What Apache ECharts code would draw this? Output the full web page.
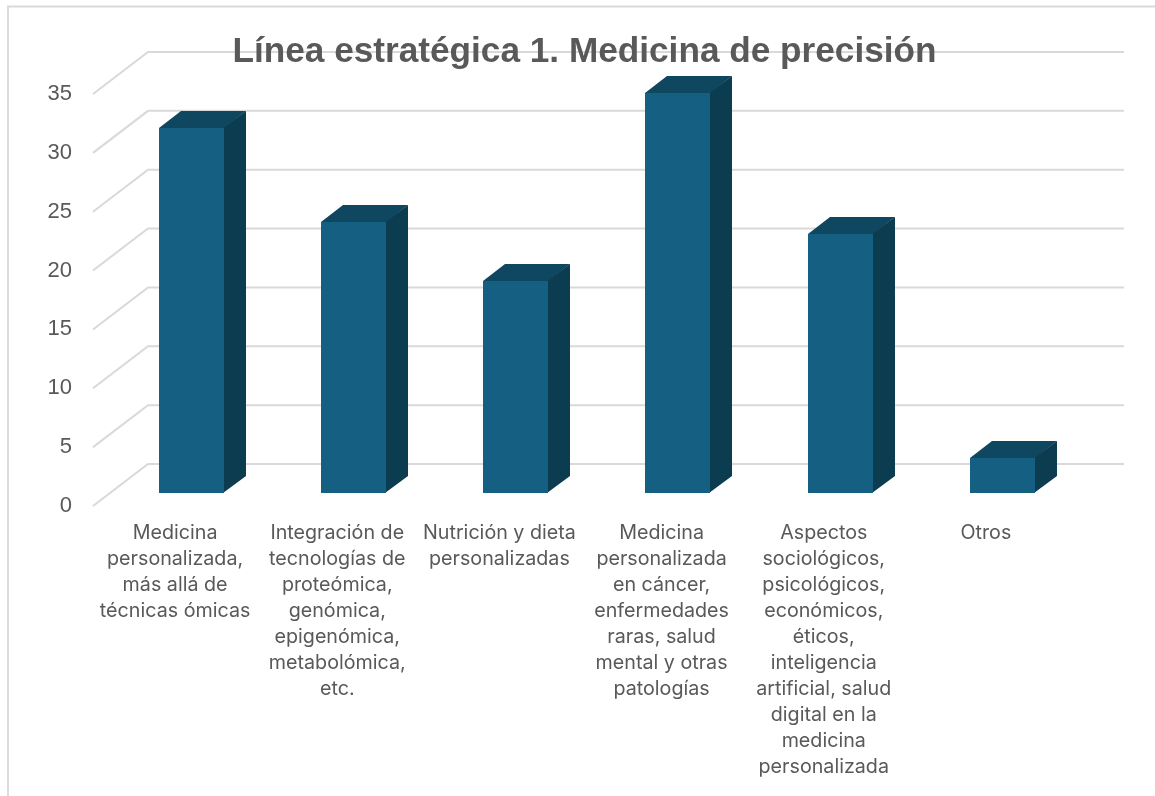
<!DOCTYPE html>
<html><head><meta charset="utf-8">
<style>html,body{margin:0;padding:0;background:#fff}#c{width:1155px;height:796px}</style>
<script src="https://cdn.jsdelivr.net/npm/echarts@6/dist/echarts.min.js"></script>
</head><body><div id="c"></div>
<script>
const chartTitle = 'Línea estratégica 1. Medicina de precisión';
const categories = [
  'Medicina\npersonalizada,\nmás allá de\ntécnicas ómicas',
  'Integración de\ntecnologías de\nproteómica,\ngenómica,\nepigenómica,\nmetabolómica,\netc.',
  'Nutrición y dieta\npersonalizadas',
  'Medicina\npersonalizada\nen cáncer,\nenfermedades\nraras, salud\nmental y otras\npatologías',
  'Aspectos\nsociológicos,\npsicológicos,\neconómicos,\néticos,\ninteligencia\nartificial, salud\ndigital en la\nmedicina\npersonalizada',
  'Otros'
];
const values = [31, 23, 18, 34, 22, 3];
const yTicks = [0, 5, 10, 15, 20, 25, 30, 35];

// 3D projection of the plot: wall depth, bar placement within the depth, bar depth
const WALL_DX = 55, WALL_DY = -42, WALL_START = -1, WALL_END = 2;
const BAR_DX = 16.4, BAR_DY = -13, SIDE_DX = 22, SIDE_DY = -17, BAR_FRACTION = 0.4;
const GRID_COLOR = '#d9d9d9', TEXT_COLOR = '#595959';

const chart = echarts.init(document.getElementById('c'), null, {renderer: 'canvas'});
chart.setOption({
  animation: false,
  backgroundColor: '#fff',
  title: {
    text: chartTitle, left: 579.5, top: 30, textAlign: 'center',
    textStyle: {fontFamily: 'Liberation Sans', fontSize: 35.2, fontWeight: 'bold', color: TEXT_COLOR}
  },
  grid: {left: 94, right: 88, top: 94, bottom: 290, containLabel: false},
  xAxis: {
    type: 'category', data: categories,
    axisLine: {show: false}, axisTick: {show: false}, splitLine: {show: false},
    axisLabel: {interval: 0, margin: 14, lineHeight: 26, fontSize: 19.7, color: TEXT_COLOR, fontFamily: 'Inter', verticalAlign: 'top', align: 'center'}
  },
  yAxis: {
    type: 'value', min: 0, max: 35, interval: 5,
    axisLine: {show: false}, axisTick: {show: false}, splitLine: {show: false},
    axisLabel: {margin: 22, fontSize: 22, color: TEXT_COLOR, fontFamily: 'Liberation Sans', align: 'right'}
  },
  graphic: [{
    type: 'polyline', silent: true, z: 0,
    shape: {points: [[8, 796], [8, 6.5], [1155, 6.5]]},
    style: {stroke: GRID_COLOR, lineWidth: 1.8, fill: null}
  }],
  series: [{
    type: 'custom', z: 1, silent: true, coordinateSystem: 'cartesian2d',
    data: yTicks.map(t => [0, t]),
    encode: {x: 0, y: 1},
    renderItem(params, api) {
      const y = api.coord([0, api.value(1)])[1];
      const rect = params.coordSys;
      const x0 = rect.x + WALL_START;
      return {
        type: 'polyline',
        shape: {points: [[x0, y], [x0 + WALL_DX, y + WALL_DY], [rect.x + rect.width + WALL_DX + WALL_END, y + WALL_DY]]},
        style: {stroke: GRID_COLOR, lineWidth: 2, fill: null}
      };
    }
  }, {
    type: 'custom', z: 3, silent: true, coordinateSystem: 'cartesian2d',
    data: values.map((v, i) => [i, v]),
    encode: {x: 0, y: 1},
    renderItem(params, api) {
      const i = api.value(0), v = api.value(1);
      const top = api.coord([i, v]), base = api.coord([i, 0]);
      const w = Math.round(api.size([1, 0])[0] * BAR_FRACTION);
      const l = Math.round(top[0] - w / 2 + BAR_DX), r = l + w;
      const t = Math.round(top[1] + BAR_DY), b = Math.round(base[1] + BAR_DY);
      return {
        type: 'group',
        children: [
          {type: 'polygon', shape: {points: [[l, t], [r, t], [r + SIDE_DX, t + SIDE_DY], [l + SIDE_DX, t + SIDE_DY]]}, style: {fill: '#0f4761'}},
          {type: 'polygon', shape: {points: [[r - 1, t], [r + SIDE_DX, t + SIDE_DY], [r + SIDE_DX, b + SIDE_DY], [r - 1, b]]}, style: {fill: '#0c3c50'}},
          {type: 'rect', shape: {x: l, y: t, width: w, height: b - t}, style: {fill: '#156082'}}
        ]
      };
    }
  }]
});
</script></body></html>
